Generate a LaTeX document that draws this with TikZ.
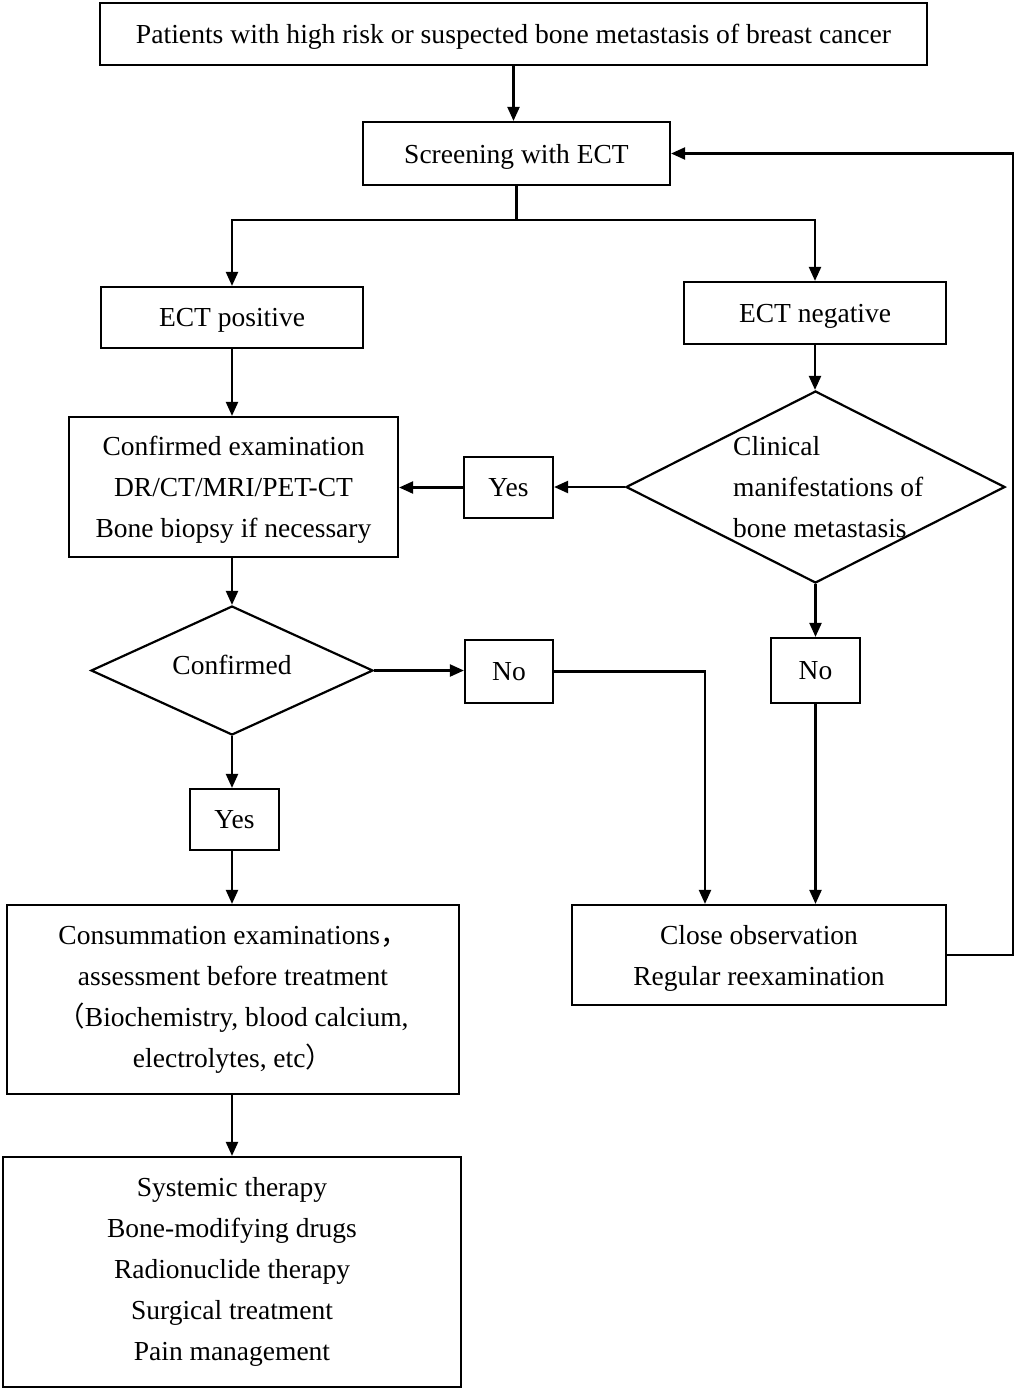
\documentclass[tikz,border=0pt]{standalone}
\usepackage{fontspec}
\usepackage{graphicx}
\setmainfont{Liberation Serif}
\newfontfamily\cjk{Noto Sans CJK SC}
\usetikzlibrary{arrows.meta,shapes.geometric}
\begin{document}
\begin{tikzpicture}[x=1pt,y=-1pt,
  every node/.style={font=\fontsize{27.5}{41}\selectfont},
  box/.style={draw,line width=2.2pt,inner sep=0pt,align=center},
  low/.style={text depth=0pt},
  dia/.style={draw,line width=2.2pt,diamond,inner sep=0pt},
  txt/.style={inner sep=0pt,align=center},
  line/.style={line width=2.2pt},
  arr/.style={line width=2.2pt,-{Triangle[length=14pt,width=12pt]}}]
\useasboundingbox (0,0) rectangle (1017,1390);
\node[box,low,minimum width=827,minimum height=62] (top) at (513.5,34) {\resizebox{755pt}{\height}{Patients with high risk or suspected bone metastasis of breast cancer}};
\node[box,low,minimum width=307,minimum height=63] (screen) at (516.5,153.5) {Screening with ECT};
\node[box,low,minimum width=262,minimum height=61] (pos) at (232,317.5) {ECT positive};
\node[box,low,minimum width=262,minimum height=62] (neg) at (815,313) {ECT negative};
\node[dia,minimum width=379,minimum height=192] (clin) at (815.5,487) {};
\node[txt,anchor=west,align=left] (clintxt) at (733,487) {Clinical\\manifestations of\\bone metastasis};
\node[box,low,minimum width=89,minimum height=61] (yes1) at (508.5,487.5) {Yes};
\node[box,low,minimum width=329,minimum height=140] (conf) at (233.5,487) {Confirmed examination\\DR/CT/MRI/PET-CT\\Bone biopsy if necessary};
\node[dia,minimum width=282,minimum height=129] (cfd) at (232,670.5) {};
\node[txt] (cfdtxt) at (232,665) {Confirmed};
\node[box,low,minimum width=88,minimum height=63] (no1) at (509,671.5) {No};
\node[box,low,minimum width=89,minimum height=65] (no2) at (815.5,670.5) {No};
\node[box,low,minimum width=89,minimum height=61] (yes2) at (234.5,819.5) {Yes};
\node[box,low,minimum width=374,minimum height=100] (close) at (759,955) {Close observation\\Regular reexamination};
\node[box,minimum width=452,minimum height=189] (cons) at (233,999.5) {Consummation examinations{\cjk ，}\\assessment before treatment\\{\cjk （}Biochemistry, blood calcium,\\electrolytes, etc{\cjk ）}};
\node[box,minimum width=458,minimum height=230] (ther) at (232,1272) {Systemic therapy\\Bone-modifying drugs\\Radionuclide therapy\\Surgical treatment\\Pain management};
\coordinate (split) at (516.5,220);
\coordinate (c1) at (705,671.5);
\coordinate (c2) at (1013,955);
\draw[arr] (513.5,0 |- top.south) -- (513.5,0 |- screen.north);
\draw[line] (screen.south) -- (split);
\draw[arr] (split) -| (pos.north);
\draw[arr] (split) -| (neg.north);
\draw[arr] (pos.south) -- (pos.south |- conf.north);
\draw[arr] (neg.south) -- (neg.south |- clin.north);
\draw[arr] (clin.west) -- (clin.west -| yes1.east);
\draw[arr] (yes1.west) -- (yes1.west -| conf.east);
\draw[arr] (cfd.north |- conf.south) -- (cfd.north);
\draw[arr] (cfd.east) -- (cfd.east -| no1.west);
\draw[arr] (no1.east) -- (c1) -- (c1 |- close.north);
\draw[arr] (clin.south) -- (clin.south |- no2.north);
\draw[arr] (no2.south) -- (no2.south |- close.north);
\draw[arr] (cfd.south) -- (cfd.south |- yes2.north);
\draw[arr] (cfd.south |- yes2.south) -- (cfd.south |- cons.north);
\draw[arr] (cfd.south |- cons.south) -- (cfd.south |- ther.north);
\draw[arr] (close.east) -- (c2) |- (screen.east);
\end{tikzpicture}
\end{document}
